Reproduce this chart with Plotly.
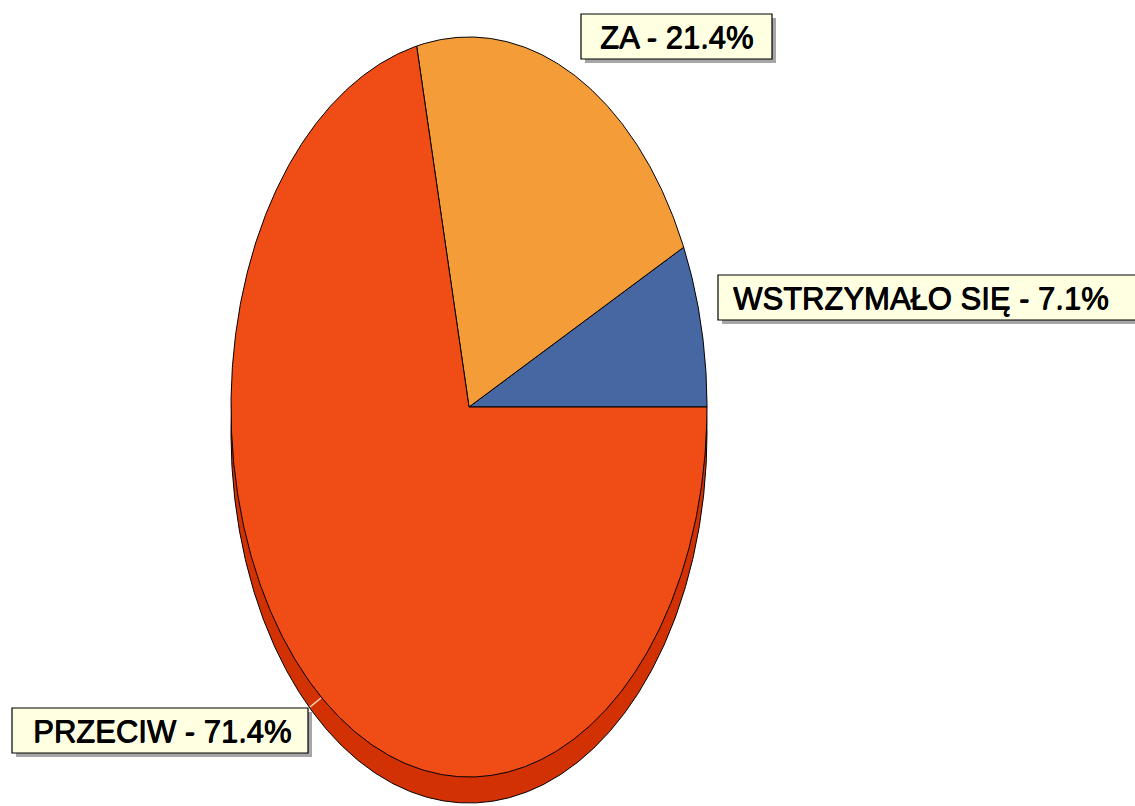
import numpy as np
import plotly.graph_objects as go

# ---- data ----
labels = ["WSTRZYMAŁO SIĘ", "ZA", "PRZECIW"]
values = [7.1, 21.4, 71.4]
colors = ["#4767a3", "#f39c38", "#ef4d15"]
side_color = "#d23104"

# ---- layout constants (pixels) ----
W, H = 1135, 806
cx, cy, rx, ry, depth = 469, 407, 238, 370, 26

fig = go.Figure()

# 3D side (shifted ellipse drawn beneath)
t = np.linspace(0, 2 * np.pi, 721)
fig.add_trace(go.Scatter(
    x=cx + rx * np.cos(t), y=cy + depth - ry * np.sin(t),
    fill="toself", fillcolor=side_color, mode="lines",
    line=dict(color="black", width=1), hoverinfo="skip", showlegend=False))

# top face wedges, counter-clockwise from 3 o'clock
total = sum(values)
start = 0.0
for lab, v, c in zip(labels, values, colors):
    span = v / total * 2 * np.pi
    th = np.linspace(start, start + span, max(int(span / (2 * np.pi) * 720), 3))
    xs = np.concatenate([[cx], cx + rx * np.cos(th), [cx]])
    ys = np.concatenate([[cy], cy - ry * np.sin(th), [cy]])
    fig.add_trace(go.Scatter(
        x=xs, y=ys, fill="toself", fillcolor=c, mode="lines",
        line=dict(color="black", width=1), name=lab,
        hoverinfo="text", text=f"{lab} - {v}%", showlegend=False))
    start += span

# label boxes: (x0, y0, x1, y1, text-centre-x)
boxes = {
    "ZA": (581, 14, 772, 59, 676),
    "WSTRZYMAŁO SIĘ": (718, 275, 1140, 320, 921),
    "PRZECIW": (12, 708, 308, 753, 162),
}

shapes = []
annotations = []
for lab, v in zip(labels, values):
    x0, y0, x1, y1, tx = boxes[lab]
    shapes.append(dict(type="rect", x0=x0 + 4, y0=y0 + 4, x1=x1 + 4, y1=y1 + 4,
                       xref="x", yref="y", fillcolor="rgba(0,0,0,0.35)",
                       line=dict(width=0), layer="above"))
    shapes.append(dict(type="rect", x0=x0, y0=y0, x1=x1, y1=y1,
                       xref="x", yref="y", fillcolor="#ffffe1",
                       line=dict(color="black", width=1.2), layer="above"))
    annotations.append(dict(x=tx, y=(y0 + y1) / 2 + 1, xref="x", yref="y",
                            text=f"{lab} - {v}%", showarrow=False,
                            xanchor="center", yanchor="middle",
                            font=dict(family="Liberation Sans, Arial", size=31,
                                      color="black",
                                      shadow="0.7px 0px 0px #000, 0px 0.5px 0px #000")))

# small leader line for PRZECIW
shapes.append(dict(type="line", x0=310, y0=707, x1=321, y1=698, xref="x", yref="y",
                   line=dict(color="#ffd9c0", width=1.5), layer="above"))

fig.update_layout(
    width=W, height=H, margin=dict(l=0, r=0, t=0, b=0),
    paper_bgcolor="white", plot_bgcolor="white",
    xaxis=dict(range=[0, W], visible=False, fixedrange=True),
    yaxis=dict(range=[H, 0], visible=False, fixedrange=True),
    shapes=shapes, annotations=annotations, showlegend=False,
)

fig.write_html("out.html", config={"displayModeBar": False},
               post_script="document.body.style.margin='0';"
                           "document.body.style.overflow='hidden';")
